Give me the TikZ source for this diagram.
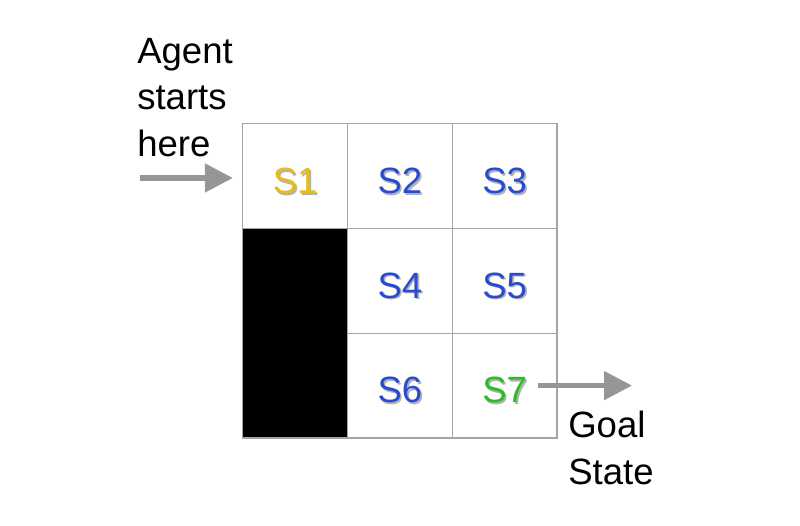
\documentclass[tikz,border=0pt]{standalone}
\usepackage{fontspec}
\setmainfont{Liberation Sans}
\usepackage{tikz}
\usetikzlibrary{arrows.meta, positioning}
\usepackage{xcolor}
\definecolor{startGold}{RGB}{228, 190, 30}
\definecolor{stateBlue}{RGB}{40, 75, 210}
\definecolor{goalGreen}{RGB}{40, 190, 40}
\definecolor{gridGray}{RGB}{165, 165, 165}
\definecolor{arrowGray}{RGB}{150, 150, 150}
% state label with a soft drop shadow
\newcommand{\statelabel}[2]{\raisebox{0pt}[0.86cm][0pt]{\makebox[0pt][l]{\kern1.2pt\raisebox{-1.2pt}{\textcolor{black!30}{#2}}}\textcolor{#1}{#2}}}

\begin{document}
\begin{tikzpicture}[
        node distance=0cm,
        font=\fontsize{26pt}{33pt}\selectfont,
        cell/.style={rectangle, draw=gridGray, line width=0.9pt, fill=white, minimum width=2.6175cm, minimum height=2.6175cm, inner sep=0pt, outer sep=0pt},
        wall/.style={rectangle, draw=gridGray, line width=0.9pt, fill=black, minimum width=2.6175cm, minimum height=5.235cm, inner sep=0pt, outer sep=0pt},
        note/.style={align=left, inner sep=0pt},
        flow/.style={-{Triangle[length=0.7cm, width=0.7cm]}, line width=3.6pt, arrowGray}
    ]
        \useasboundingbox (0,0) rectangle (20,13.125);
        \node[cell] (s1) at (7.38,8.72) {\statelabel{startGold}{S1}};
        \node[cell, right=of s1] (s2) {\statelabel{stateBlue}{S2}};
        \node[cell, right=of s2] (s3) {\statelabel{stateBlue}{S3}};
        \node[cell, below=of s2] (s4) {\statelabel{stateBlue}{S4}};
        \node[cell, right=of s4] (s5) {\statelabel{stateBlue}{S5}};
        \node[cell, below=of s4] (s6) {\statelabel{stateBlue}{S6}};
        \node[cell, right=of s6] (s7) {\statelabel{goalGreen}{S7}};
        \node[wall, below=of s1] (block) {};
        \node[note, anchor=north west] (agent) at (3.425,12.175) {Agent\\starts\\here};
        \node[note, anchor=north west] (goal) at (14.2,2.85) {Goal\\State};
        \coordinate (entry) at (3.5,8.675);
        \coordinate (exit) at (15.8,8.675 |- s7.center);
        \draw[flow] (entry) -- ([xshift=-0.25cm]s1.west |- entry);
        \draw[flow] ([xshift=0.84cm]s7.center) -- (exit);
    \end{tikzpicture}
\end{document}
